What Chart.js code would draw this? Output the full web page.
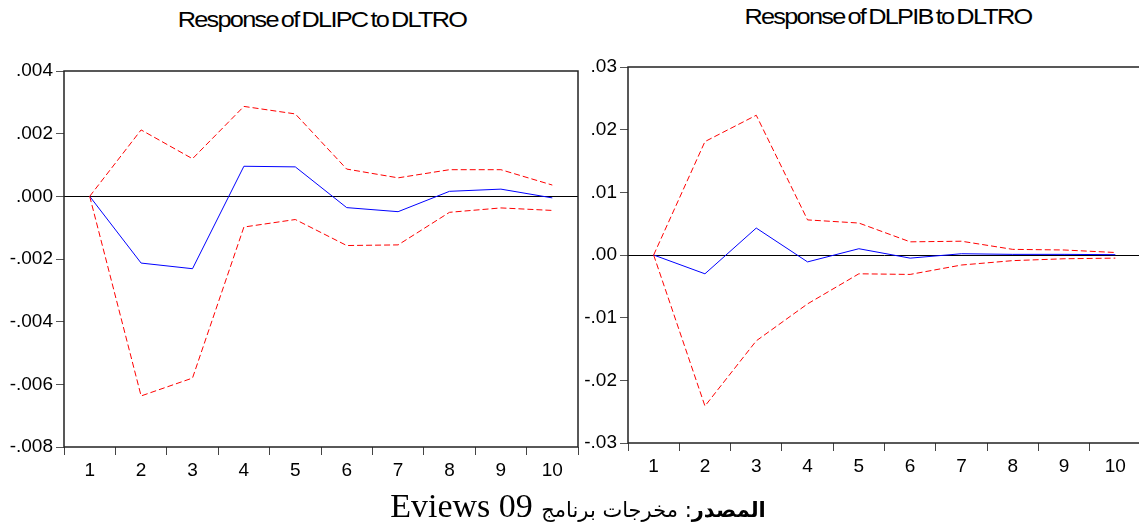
<!DOCTYPE html>
<html>
<head>
<meta charset="utf-8">
<script src="https://cdn.jsdelivr.net/npm/chart.js@4.4.1/dist/chart.umd.min.js"></script>
<style>
  html, body { margin: 0; padding: 0; background: #fff; overflow: hidden; }
  body { width: 1139px; height: 530px; position: relative; }
  .title {
    position: absolute; width: 400px; text-align: center;
    font-family: "Liberation Sans", Arial, sans-serif; font-size: 22px; line-height: 22px;
    color: #000; letter-spacing: -1.5px; word-spacing: -2px;
    transform: scaleX(1.15); white-space: nowrap;
  }
  .panel { position: absolute; top: 40px; overflow: hidden; }
  .caption {
    position: absolute; left: 0; width: 1156px; top: 489px; text-align: center;
    font-family: "Liberation Serif", "Times New Roman", serif; font-size: 34px; line-height: 34px;
    color: #000; white-space: nowrap;
  }
  .caption .ar { font-family: "DejaVu Sans", sans-serif; font-size: 21px; }
</style>
</head>
<body>
<div class="title" style="left:122px; top:9px;">Response of DLIPC to DLTRO</div>
<div class="title" style="left:688px; top:6px;">Response of DLPIB to DLTRO</div>

<div class="panel" style="left:0; width:582px; height:452px;">
  <canvas id="chartIpc" width="582" height="452"></canvas>
</div>
<div class="panel" style="left:583px; width:556px; height:450px;">
  <canvas id="chartPib" width="562" height="448"></canvas>
</div>

<div class="caption" dir="rtl"><span class="ar"><b>المصدر</b>: مخرجات برنامج</span> Eviews 09</div>

<script>
// horizon (periods after the shock)
const periods = [1, 2, 3, 4, 5, 6, 7, 8, 9, 10];

// Response of DLIPC to DLTRO
const ipcResponse = [0, -0.00213, -0.00231, 0.00096, 0.00094, -0.00036, -0.00049, 0.00016, 0.00023, -0.00005];
const ipcUpper = [0, 0.00212, 0.00120, 0.00287, 0.00263, 0.00087, 0.00059, 0.00085, 0.00085, 0.00036];
const ipcLower = [0, -0.00637, -0.00580, -0.00098, -0.00074, -0.00157, -0.00155, -0.00051, -0.00037, -0.00045];

// Response of DLPIB to DLTRO
const pibResponse = [0, -0.0030, 0.0043, -0.0011, 0.0010, -0.0005, 0.0002, 0.0001, 0.0001, 0.00005];
const pibUpper = [0, 0.0181, 0.0223, 0.0056, 0.0051, 0.0021, 0.0022, 0.0009, 0.0008, 0.0004];
const pibLower = [0, -0.0241, -0.0137, -0.0078, -0.0030, -0.0031, -0.0016, -0.0009, -0.0006, -0.0005];

// tick marks sit between periods, labels on the periods
const xTickValues = [];
for (let v = 0.5; v <= 10.5; v += 0.5) xTickValues.push(v);

const toPoints = (vals) => vals.map((y, i) => ({ x: periods[i], y: y }));

// EViews style numbers: no leading zero
function evLabel(v, digits) {
  let s = Math.abs(v) < 1e-12 ? (0).toFixed(digits) : v.toFixed(digits);
  return s.replace(/^(-?)0\./, '$1.');
}

// full frame around the plot area
const frame = {
  id: 'frame',
  afterDatasetsDraw(chart) {
    const a = chart.chartArea, c = chart.ctx;
    c.save();
    c.strokeStyle = '#222';
    c.lineWidth = 1.5;
    c.strokeRect(a.left, a.top, a.right - a.left, a.bottom - a.top);
    c.restore();
  }
};

function irfChart(id, resp, upper, lower, yMin, yMax, yStep, digits, padTop, yWidth) {
  const tickFont = { family: '"Liberation Sans", Arial, sans-serif', size: 19 };
  const band = (data) => ({
    data: toPoints(data), borderColor: '#ff0000', borderWidth: 1,
    borderDash: [6, 3], pointRadius: 0, tension: 0, fill: false
  });
  return new Chart(document.getElementById(id), {
    type: 'line',
    data: {
      datasets: [
        band(upper),
        band(lower),
        { data: toPoints(resp), borderColor: '#0000ff', borderWidth: 1, pointRadius: 0, tension: 0, fill: false }
      ]
    },
    options: {
      responsive: false,
      animation: false,
      events: [],
      layout: { padding: { top: padTop, right: 1, left: 0, bottom: 0 } },
      plugins: { legend: { display: false }, title: { display: false }, tooltip: { enabled: false } },
      scales: {
        x: {
          type: 'linear', min: 0.5, max: 10.5,
          afterBuildTicks(axis) { axis.ticks = xTickValues.map(v => ({ value: v })); },
          afterFit(axis) { axis.height = 45; },
          border: { display: false },
          grid: {
            drawOnChartArea: false, tickLength: 8, tickWidth: 1,
            tickColor: (ctx) => Number.isInteger(ctx.tick.value) ? 'rgba(0,0,0,0)' : '#444'
          },
          ticks: {
            autoSkip: false, maxRotation: 0, padding: 4, color: '#000', font: tickFont,
            callback: (v) => Number.isInteger(v) ? String(v) : ''
          }
        },
        y: {
          min: yMin, max: yMax,
          afterFit(axis) { axis.width = yWidth; },
          border: { display: false },
          grid: {
            tickLength: 8, tickColor: '#555',
            color: (ctx) => Math.abs(ctx.tick.value) < 1e-12 ? '#000' : 'rgba(0,0,0,0)'
          },
          ticks: {
            stepSize: yStep, padding: 3, color: '#000', font: tickFont,
            callback: (v) => evLabel(v, digits)
          }
        }
      }
    },
    plugins: [frame]
  });
}

irfChart('chartIpc', ipcResponse, ipcUpper, ipcLower, -0.008, 0.004, 0.002, 3, 31, 64);
irfChart('chartPib', pibResponse, pibUpper, pibLower, -0.03, 0.03, 0.01, 2, 27, 45);
</script>
</body>
</html>
